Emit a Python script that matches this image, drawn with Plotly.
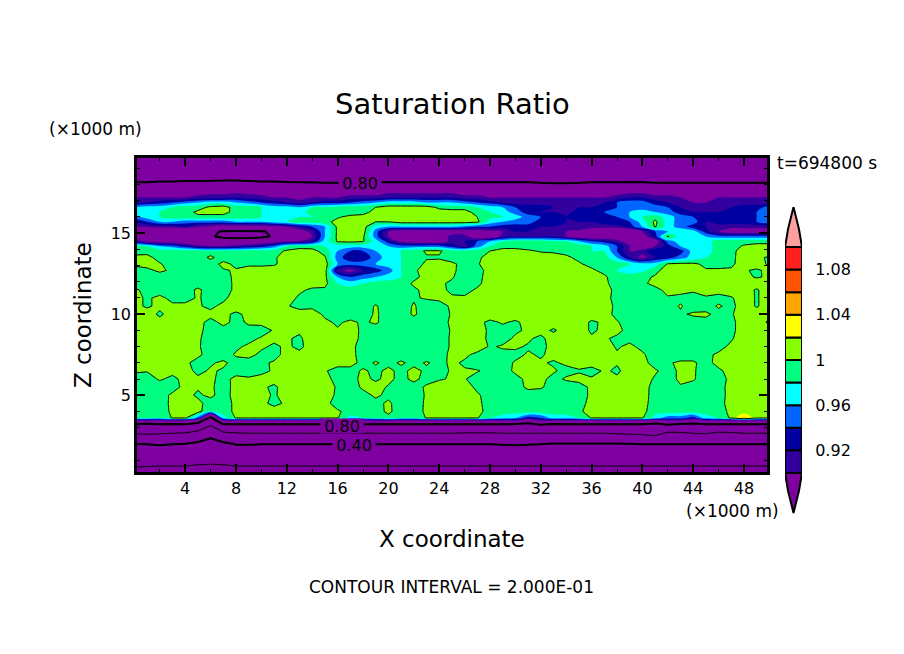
import numpy as np
import plotly.graph_objects as go

# the page body adds 8px on the top and left of the figure
W, H = 896, 646
OFFSET = 8

# grid of the contour field, x and z in km (percent)
x_km = list(range(51))
z_km = [19.7, 18.6, 18.15, 17.6, 17.2, 16.9, 16.6, 16.3, 16.0, 15.7, 15.4, 15.1, 14.8, 14.5, 14.2,
        13.9, 13.5, 13.1, 12.7, 12.3, 11.9, 11.5, 11.0, 10.5, 10.0, 9.5, 9.0, 8.5, 8.0, 7.5, 7.0,
        6.5, 6.0, 5.5, 5.0, 4.5, 4.0, 3.6, 3.45, 3.2, 2.65, 2.0, 0.63, 0.2]

row_1970 = [72,72,72,72,72,72,72,72,72,72, 72,72,72,72,72,72,72,72,72,72, 72,72,72,72,72,72,72,72,72,72, 72,72,72,72,72,72,72,72,72,72, 72,72,72,72,72,72,72,72,72,72,72]
row_1860 = [74,74,74,74,75,75,75,75,75,75, 74,74,74,74,74,74,74,74,74,74, 74,74,74,74,74,74,74,74,74,74, 74,74,74,73,73,74,74,74,74,74, 74,74,74,74,74,74,74,74,74,74,74]
row_1815 = [80,80,80.5,80.5,81,81,81.2,81.5,81.5,81, 80.5,80.5,80.2,80,79.8,79.5,79.5,79.5,79.8,80, 80,80,80,80,80,80,80,80,80,80, 80,80,79.5,79,79,79.5,80,80,80,80.2, 80,79.5,79.5,79.5,79.5,79.5,79.5,79.5,79.5,79.5,79.5]
row_1760 = [87,87,87,88,88,88,89,89,89,89, 88,88,87,87,87,87,88,88,88,88, 89,89,89,89,89,89,88,88,88,88, 88,88,87,87,87,87,87,88,88,89, 89,88,88,87,87,87,87,87,87,87,87]
row_1720 = [90,90,90,90,90,91,91,91,92,91, 91,90,90,89,90,90,90,91,91,91, 92,92,92,92,92,92,91,91,90,90, 90,90,90,90,90,90,90,90,91,92, 92,91,91,90,90,90,90,90,90,90,90]
row_1690 = [92,92,93,94,95,96,97,97,96,95, 94,93,92,91,92,93,93,94,95,96, 97,97,97,96,96,96,95,94,93,92, 91,91,91,91,91,91,92,92,94,95, 95,93,92,91,90,90,91,91,91,91,91]
row_1660 = [96,97,97,98,99,99,100.5,101,99,99, 98,97,97,96,98,98,99,99,99,100, 101,101,101,101,99.5,99,99,98,97,96, 94,93,93,92,92,92,92,93,94,95, 95,95,94,92,91,91,91,92,93,93,95]
row_1630 = [97,97,98,99,99,100.5,101,101,99,99, 98,98,98,97,99,99,99,99,99,101, 101,101,101,101,101,101,101,99,98,97, 95,93,92,92,91,93,93,94,95,96, 97,96,95,93,92,92,92,93,93,94,95]
row_1600 = [95,97,98,99,99,99.5,99,99,99,99, 98,98,97,98,98,99,99.8,100.5,101,101, 101,101,101,101,101,101,101,100,98.5,98, 97,95,94,93,92,93,93,93,94,96, 98,99,97,95,94,93,93,93,93,94,95]
row_1570 = [92,94,96,96,95,95,95,95,96,96, 96,97,98,99,99,99.5,100.5,101,101,100, 100,101,101,101,101,101,101,100.5,97,96, 95,95,93,93,92,92,92,93,94,94, 97,100.6,97,95,95,92,93,93,93,94,95]
row_1540 = [90,90,91,91,92,90,89,88,88,88, 88,89,90,92,94,96,100.5,101,101,97, 96,96,96,96,96,96,95,94,94,93, 93,93,92,92,91,92,91,91,91,93, 96,100.2,97,95,93,92,91,91,91,91,91]
row_1510 = [88,86,85,85,84,84,81,79.5,79,79, 79.5,81,84,88,91,96,100.4,101,101,95, 90,88,88,88,88,88,88,88,89,90, 92,92,92,91,90,89,87,86,86,86, 90,94,96,98,97,93,90,88,88,88,88]
row_1480 = [88,87,86,86,85,84,81,78,77,77, 78,81,85,88,90,96,100.5,101,100.4,95, 90,87,87,87,88,91,91,87,87,91, 92,92,92,92,90,88,87,87,87,87, 88,93,100.3,97,97,96,95,95,95,95,95]
row_1450 = [92,89,88,88,87,86,85,85,85,86, 87,88,90,90,92,97,100.3,100.6,100.2,97, 93,89,88,88,88,91,92,94,96,98, 99,99,99,98,98,96,94,93,91,88, 87,88,95,97,97,97,99,99,99,99,99]
row_1420 = [99,98,96,95,93,91,90,90,91,92, 93,95,98,99,99,98,97,97,97,97, 96,95,95,95,95,93,91,95,98,99, 99,99,99,99,99,99,98,97,94,90, 88,90,93,96,97,97,99,99,100.3,101,101]
row_1390 = [99,99,99,99,99,99,99,99,99,99, 99,99,100.4,101,100.8,99,96,94,94,96, 97,98,99,100.3,100.3,99,99,99,100,101, 101,100.3,99.8,99.6,99.5,99,98,98,94,90, 91,94,93,93,97,97,99,99.4,101,101,101]
row_1350 = [100.6,100.8,99,99,99,99,100.4,99,99,99, 99,99.7,101,101,101,100.3,95,92.5,92.5,95, 97,98,99,99.8,99.8,99,99,99.7,100.6,101, 101,101,101,101,100.3,99.6,99,99,96,92, 89,92,93,95,97,98,99,99.5,101,100.3,99.8]
row_1310 = [100.5,100.8,100.2,99,99,99,99,100.6,99.5,99.5, 99.5,99.7,101,101,101,101,96,95,95,96, 97,98,99,100.4,100.6,100.4,99.3,99.8,101,101, 101,101,101,101,101,100.2,99.5,99,99,98, 97,97,100.2,100.5,100.4,99.5,99.5,99.6,101,101,99.6]
row_1270 = [99,99.5,100.4,99.6,99,99,99,99.8,100.2,101, 101,101,101,101,101,101,91,89,92,93, 95,98,99.6,101,101,100.5,99,99,101,101, 101,101,101,101,101,101,100.3,99.5,98,97, 97.5,99.4,101,101,100.4,100.2,100.2,100.3,100.2,99.7,100.5]
row_1230 = [99,99,99,99,99,99,99,99,100.6,101, 101,101,101,101,101,100.5,96,94,95,96, 97,98,99.5,100.6,101,100.2,99,99.3,101,101, 101,101,101,101,101,101,101,100.3,99,99, 99.5,100.2,101,101,101,101,101,101,100.5,99.8,100.3]
row_1190 = [99,99,99,99,99,99,99,99,100.5,101, 101,101,101,101,101,100.5,98,97,98,99, 99,99,100.3,100.5,100.3,99.7,99,99.5,101,101, 101,101,101,101,101,101,101,100.5,99,99, 99.6,100.6,101,101,100.8,101,101,101,101,101,101]
row_1150 = [100.3,99.5,99,99,99,100.4,99,99,100.5,101, 101,101,101,100.4,99.6,99.7,99,99,99,99, 99,99,99.7,100.5,100.4,99.7,99.3,100.3,101,101, 101,101,101,101,101,101,101,100.7,99.5,99.3, 99.5,99.4,100.6,100.6,100.4,101,100.7,101,100.8,99.8,101]
row_1100 = [100.6,99.7,100.5,99.4,99,100.3,99,99.5,101,101, 101,101,101,99.6,99.3,99,99,99,99,99, 99,99,99.8,100.2,100.4,100.2,100.3,101,101,101, 101,101,101,101,101,101,101,101,99,99, 99,99,99.8,99.5,99,99.7,99.4,99.8,101,99.8,101]
row_1050 = [100.6,99.7,100.5,100.4,100.7,100.2,99.6,100.5,101,101, 101,101,100.2,99.3,99.5,99.7,99,99,99,100.2, 99,99,100.2,99,99.3,100.3,100.7,101,101,101, 101,101,101,101,101,101,101,101,99.5,99, 99,99,99,100.2,99,99.3,100.2,99.5,101,99.8,101]
row_1000 = [101,101,99.6,101,100.6,100.3,100.5,100.5,99.6,100.5, 101,100.5,100.3,101,101,99.6,99,99,99,100.3, 99,99,100.3,99,99,100.2,100.6,101,101,101, 101,101,101,101,101,101,101,101,99.3,99, 99,99,99,99.7,100.3,100.3,99.5,99.8,101,101,100.3]
row_950 = [101,101,100.8,101,100.3,100.5,99.5,100.4,99.6,100.2, 100.5,100.6,100.8,101,101,100.4,99.7,100.4,99.7,100.3, 99,99,99,99,99.3,100.3,101,100.5,99.6,100.2, 99.7,100.6,101,101,101,101,99.7,100.3,100.2,99, 99,99,99,99,99,99.5,99.3,99.5,101,100.8,99.7]
row_900 = [101,101,101,101,100.8,100.4,99.4,99.5,99.3,99.6, 99.2,100.2,100.6,100.3,101,100.5,100.2,100.8,99.6,99, 99,99,99,99,99,100.2,101,101,99.6,99.4, 99.7,100.3,100.7,99.7,101,101,99.7,100.4,100.4,99.5, 99,99,99,99,99,99.3,99.5,99.5,101,101,101]
row_850 = [101,100.8,101,101,100.4,100.2,99.4,99.3,99,99.5, 100.2,100.4,100.2,99.7,101,100.7,101,100.5,99.7,99, 99,99,99,99,99,100.3,101,101,99.5,99.3, 100.3,100.3,99.5,101,101,101,100.3,100.2,99.7,99.5, 99,99,99,99,99,99,99.4,99.8,101,101,101]
row_800 = [101,101,101,101,100.6,100.2,99.2,99,99.7,100.3, 100.3,99.7,100.3,99.6,100.8,101,101,100.4,99.4,99, 99,99,99,99,99.3,100.2,101,101,99.8,100.2, 100.3,99.8,99.5,100.6,101,101,100.6,100.8,99.8,100.4, 99.5,99,99,99,99,99.5,99.4,100.4,101,101,101]
row_750 = [101,100.8,101,101,100.8,100.4,99.2,99.2,100.2,100.5, 99.6,99.4,100.6,100.5,101,101,101,100.6,99.2,99, 99,99,99,99,99.5,100.3,100.4,99.5,99.2,99.5, 99.5,100.2,99.8,100.5,101,101,100.8,101,100.2,100.4, 100.3,99,99,99,99,99.6,100.3,100.8,100.4,100.2,101]
row_700 = [100.8,101,101,101,100.4,99.3,99.8,100.3,99.4,99.3, 99.7,100.2,100.8,100.3,100.2,101,100.8,100.8,99.3,100.2, 99.4,100.3,99.4,100.2,99.4,100.4,99.7,99.3,99.2,99.3, 100.2,100.2,100.2,99.8,100.3,100.8,100.7,100.3,100.1,100.5, 100.5,99.4,99.8,100.3,100.3,99.2,100.8,101,101,101,101]
row_650 = [100.2,100.1,100.2,100.5,100.6,99.6,100.2,99.8,99.4,99, 99.6,100.2,100.6,100.6,100.4,100.2,99.2,99.2,100.3,99.5, 100.5,99.4,100.6,99.6,99.4,100.2,100.2,100.1,99.6,99.3, 100.3,100.5,100.5,100.2,99.5,99.8,99.4,100.2,99.8,100.5, 100.5,100.2,99.4,100.3,100.2,99.2,99.5,101,101,101,101]
row_600 = [99.4,99.3,100.2,99.6,100.5,100.3,100.3,99.5,100.4,100.3, 100.5,100.6,100.3,100.6,100.3,100.7,99.3,99.3,100.5,99.7, 100.5,99.4,100.5,99.3,99.8,100.2,100.1,99.4,99.3,99.3, 99.5,100.4,100.4,99.5,100.2,100.6,100.2,100.5,100.2,100.6, 100.7,99.8,99.2,100.4,100.2,99.1,99.2,100.5,101,101,101]
row_550 = [99.2,99.2,99.2,99.2,100.6,100.2,100.3,99.2,100.6,100.8, 100.3,99.7,100.8,101,100.3,100.8,99.8,99.2,100.3,100.7, 99.8,99.2,99.2,100.3,101,101,101,99.5,99.2,99.2, 99.2,100.4,100.2,99.3,99.2,99.2,100.4,100.7,100.8,101, 100.9,99.2,99.7,99.8,99.3,99.1,99.2,100.8,101,101,101]
row_500 = [99.1,99.1,99.1,100.4,100.6,99.7,100.4,99.2,100.7,101, 100.8,99.7,101,101,101,101,99.6,99,99.4,100.3, 99.6,99.1,99.1,100.2,101,101,101,100.3,99.1,99.1, 99.1,99.1,99.1,99.1,99.1,99.1,100.4,101,101,101, 100.9,99.1,99.1,99.1,99.1,99.1,99.1,100.8,101,101,101]
row_450 = [99,99,99,100.5,100.4,100.5,99.2,99,100.5,101, 100.6,99.4,100.4,101,101,100.5,99.3,99.2,99.2,99.5, 100.3,99.1,99.1,100.3,101,101,101,100.5,99.1,99.1, 99.1,99.1,99.1,99.1,99.1,99.4,100.5,101,101,101, 100.8,99,99,99,99,99,99.3,100.8,101,101,101]
row_400 = [99,99,99,100.4,100.8,100.9,98,99,100.5,101, 101,101,101,101,101,100.8,100.2,99.5,99,99.2, 100.4,99,99,100.4,101,101,101,100.8,99,99, 99,99,99,99,99,99.7,100.7,101,101,101, 100.5,99,99,99,99,99,99,100.6,101,101,101]
row_360 = [98.5,98.5,98,100.2,100.5,95,78,97,100.2,100.5, 100.5,100.5,100.5,100.5,100.4,100.4,100.2,97,98,98.5, 99.5,98,98,100.2,100.4,100.4,100.4,100.2,98,97, 96,93,94,97,97,98,100.2,100.4,100.4,100.3, 100.2,97,95,95,93,97,98,100.5,104.5,100.5,100.5]
row_345 = [90.5,91,90.5,91,90.5,86,72,91,90.5,90.5, 90.5,91,90.5,90.5,90.5,90.5,90.5,90.5,90.5,91, 91,90.5,90.5,90.5,90.5,90.5,90.5,90.5,90.5,90.5, 91,88,91,90.5,90.5,90.5,90.5,90.5,90.5,90.5, 90.5,88,90.5,90.5,88,91,90.5,90.5,91,90.5,90.5]
row_320 = [80,78,80,79,80,77,62,80,80,80, 80,80,80,80,80,80,80,80,80,80, 80,80,80,80,80,80,80,80,80,80, 79,77,81,79,80,80,80,80,80,80, 80,78,81,79,78,80,80,80,80,80,80]
row_265 = [61,62,61,60,59,54,48,57,59,60, 60,60,60,60,60,60,60,60,60,60, 60,60,60,60,60,60,59,59,59,60, 60,60,60,60,60,60,60,60,61,62, 63,66,57,58,60,61,57,58,60,60,60]
row_200 = [40,40.5,41.5,40.5,40,37,31,37,41,41, 40.5,40.5,40.5,40.5,40.5,40.5,40.5,40.5,40.5,40.5, 40.5,40.5,40.5,40.5,40.5,40.5,40.5,40.5,40.5,41, 41.5,41,40.5,39.5,39.5,39.5,39.5,39.5,39.5,40, 40.5,40.5,40.5,40.5,40.5,40.5,40.5,40.5,40.5,40.5,40.5]
row_063 = [21,20.5,20,20,20,19,19,19,20,20, 20,20,20,20,20,20,20,20,20,20, 20,20,20,20,20,20,20,20,20,20, 20,20,20,20,20,20,20,20,20,20, 20,20,20,20,20,20,20,20,20,20,20]
row_020 = [14,14,14,14,14,14,14,14,14,14, 14,14,14,14,14,14,14,14,14,14, 14,14,14,14,14,14,14,14,14,14, 14,14,14,14,14,14,14,14,14,14, 14,14,14,14,14,14,14,14,14,14,14]

rows = [row_1970, row_1860, row_1815, row_1760, row_1720, row_1690, row_1660, row_1630, row_1600,
        row_1570, row_1540, row_1510, row_1480, row_1450, row_1420, row_1390, row_1350, row_1310,
        row_1270, row_1230, row_1190, row_1150, row_1100, row_1050, row_1000, row_950, row_900,
        row_850, row_800, row_750, row_700, row_650, row_600, row_550, row_500, row_450, row_400,
        row_360, row_345, row_320, row_265, row_200, row_063, row_020]

# colour key
levels = [0.90, 0.92, 0.94, 0.96, 0.98, 1.00, 1.02, 1.04, 1.06, 1.08]
key_labels = ['0.92', '0.96', '1', '1.04', '1.08']
key_ticks = [0.92, 0.96, 1.00, 1.04, 1.08]
below_colour = '#7f00a0'
band_colours = ['#3300a0', '#0000a0', '#0066ff', '#00ffff', '#00ff80',
                '#88ff00', '#ffff00', '#ffa500', '#ff5500', '#ff2020']
above_colour = '#ffa0a0'

FONT = 'DejaVu Sans'


def px(x):
    return (x - OFFSET) / W


def py(y):
    return 1 - (y - OFFSET) / H


sat = np.array(rows[::-1]) / 100
z_up = z_km[::-1]

# step colorscale with one flat stretch per band
all_colours = [below_colour] + band_colours + [above_colour]
n = len(all_colours)
scale = []
for i, c in enumerate(all_colours):
    scale.append([i / n, c])
    scale.append([(i + 1) / n, c])

fig = go.Figure()

fig.add_trace(go.Contour(
    x=x_km, y=z_up, z=sat,
    autocontour=False, zauto=False, zmin=0.89, zmax=1.11,
    contours=dict(start=0.90, end=1.10, size=0.02, coloring='fill', showlines=False),
    colorscale=scale, showscale=False, line=dict(width=0), hoverinfo='skip',
))

# thin lines every 0.2, heavier ones at 0.4 and 0.8
fig.add_trace(go.Contour(
    x=x_km, y=z_up, z=sat, autocontour=False,
    contours=dict(start=0.2, end=1.0, size=0.2, coloring='none'),
    line=dict(color='black', width=1, smoothing=0), showscale=False, hoverinfo='skip',
))
fig.add_trace(go.Contour(
    x=x_km, y=z_up, z=sat, autocontour=False,
    contours=dict(start=0.4, end=0.8, size=0.4, coloring='none'),
    line=dict(color='black', width=2, smoothing=0), showscale=False, hoverinfo='skip',
))

# colour key, on its own axes
tip = 0.0354
fig.add_trace(go.Bar(
    x=[0.5] * len(levels), y=[0.02] * len(levels), base=levels, width=1,
    marker=dict(color=band_colours, line=dict(color='black', width=2)),
    xaxis='x2', yaxis='y2', hoverinfo='skip',
))
low, high = levels[0], levels[-1] + 0.02
fig.add_trace(go.Scatter(
    x=[0, 0.18, 0.5, 0.82, 1, 0], y=[low, low - 0.45 * tip, low - tip, low - 0.45 * tip, low, low],
    mode='lines', fill='toself', fillcolor=below_colour, line=dict(color='black', width=2),
    xaxis='x2', yaxis='y2', hoverinfo='skip',
))
fig.add_trace(go.Scatter(
    x=[0, 0.18, 0.5, 0.82, 1, 0], y=[high, high + 0.45 * tip, high + tip, high + 0.45 * tip, high, high],
    mode='lines', fill='toself', fillcolor=above_colour, line=dict(color='black', width=2),
    xaxis='x2', yaxis='y2', hoverinfo='skip',
))

axis_style = dict(
    showgrid=False, zeroline=False, showline=True, linecolor='black', linewidth=2.5,
    mirror='ticks', ticks='inside', tickcolor='black', tickwidth=2, ticklen=8,
    tickfont=dict(family=FONT, size=16, color='black'),
)

fig.update_layout(
    width=W, height=H, showlegend=False, barmode='overlay',
    paper_bgcolor='white', plot_bgcolor='white',
    margin=dict(l=0, r=0, t=0, b=0),
    font=dict(family=FONT, color='black'),
    xaxis=dict(
        domain=[px(137), px(767)], range=[0.205, 49.81],
        tickvals=list(range(4, 49, 4)),
        minor=dict(dtick=2, ticks='inside', ticklen=3, tickcolor='black', tickwidth=1),
        **axis_style,
    ),
    yaxis=dict(
        domain=[py(472), py(158)], range=[0.26, 19.64],
        tickvals=[5, 10, 15],
        minor=dict(dtick=1, ticks='inside', ticklen=3, tickcolor='black', tickwidth=1),
        **axis_style,
    ),
    xaxis2=dict(domain=[px(785), px(802)], range=[0, 1], anchor='y2', visible=False),
    yaxis2=dict(
        domain=[py(515), py(207)], range=[low - 0.0372, high + 0.0354], anchor='x2', side='right',
        showgrid=False, zeroline=False, showline=False,
        tickvals=key_ticks, ticktext=key_labels, ticks='outside', ticklen=9,
        tickcolor='rgba(0,0,0,0)', tickfont=dict(family=FONT, size=16, color='black'),
    ),
)


def label(x, y, text, size, **kw):
    fig.add_annotation(xref='paper', yref='paper', x=px(x), y=py(y), text=text, showarrow=False,
                       xanchor='center', yanchor='middle',
                       font=dict(family=FONT, size=size, color='black'), **kw)


label(452, 104, 'Saturation Ratio', 29)
label(95, 129, '(×1000 m)', 17)
label(732, 511, '(×1000 m)', 17)
label(827, 163, 't=694800 s', 17)
label(452, 539, 'X coordinate', 23)
label(83, 315, 'Z coordinate', 23, textangle=-90)
label(451, 587, 'CONTOUR INTERVAL = 2.000E-01', 17)

# contour labels sit in data coordinates and break their lines
for lx, lz, txt in [(17.8, 18.1, '0.80'), (16.35, 3.13, '0.80'), (17.3, 1.95, '0.40')]:
    fig.add_annotation(x=lx, y=lz, text=txt, showarrow=False, bgcolor=below_colour, borderpad=0,
                       width=42, height=14, xanchor='center', yanchor='middle',
                       font=dict(family=FONT, size=16, color='black'))

fig.write_html("out.html")
